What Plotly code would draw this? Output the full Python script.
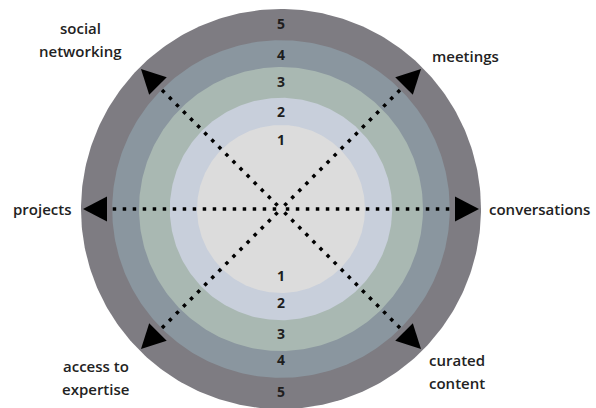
import numpy as np
import plotly.graph_objects as go

# ---------------- data ----------------
levels = [1, 2, 3, 4, 5]
ring_radius = [2.1, 2.78, 3.55, 4.22, 5.0]          # outer edge of each level ring
ring_colors = ["#dcdcdc", "#c8cfdb", "#a9b8b2", "#8a969f", "#7e7c82"]

dimensions = ["conversations", "meetings", "social\nnetworking",
              "projects", "access to\nexpertise", "curated\ncontent"]
dimension_angle = [0, 45, 135, 180, 225, 315]         # degrees, counter-clockwise from east

# ---------------- styling / layout helpers ----------------
tip_r = 4.95           # arrow tip distance (axis units)
head_len = 0.6
head_half = 0.31
line_start = 0.12
line_reach = 4.6
label_place = {        # anchor point and alignment for each dimension label
    "conversations": (5.15, 0.0, "left"),
    "meetings": (3.72, 3.82, "left"),
    "social\nnetworking": (-5.02, 4.24, "center"),
    "projects": (-5.2, 0.0, "right"),
    "access to\nexpertise": (-4.63, -4.2, "center"),
    "curated\ncontent": (3.65, -4.05, "left"),
}
FONT = "Open Sans"
W, H = 596, 408
unit = 40.0
cx, cy = 281, 209

fig = go.Figure()

# rings, biggest first
t = np.linspace(0, 2 * np.pi, 361)
for lvl, r, col in sorted(zip(levels, ring_radius, ring_colors), key=lambda z: -z[1]):
    fig.add_trace(go.Scatter(
        x=r * np.cos(t), y=r * np.sin(t), mode="lines", fill="toself",
        fillcolor=col, line=dict(width=0, color=col), hoverinfo="skip",
        showlegend=False))

# level numbers (above and below centre)
label_r = [r - 0.4 for r in ring_radius]
for sign in (1, -1):
    fig.add_trace(go.Scatter(
        x=[0] * len(levels), y=[sign * lr for lr in label_r], mode="text",
        text=[str(l) for l in levels],
        textfont=dict(family=FONT, size=14, color="#1e1e1e", weight="bold"),
        hoverinfo="skip", showlegend=False))

# dotted arrow lines + arrowheads
for name, ang in zip(dimensions, dimension_angle):
    a = np.deg2rad(ang)
    u = np.array([np.cos(a), np.sin(a)])
    n = np.array([-np.sin(a), np.cos(a)])
    fig.add_trace(go.Scatter(
        x=[line_start * u[0], line_reach * u[0]],
        y=[line_start * u[1], line_reach * u[1]],
        mode="lines", line=dict(color="#000000", width=3.5, dash="3.5px,6.5px"),
        hoverinfo="skip", showlegend=False))
    tip = tip_r * u
    base = (tip_r - head_len) * u
    p1 = base + head_half * n
    p2 = base - head_half * n
    fig.add_trace(go.Scatter(
        x=[tip[0], p1[0], p2[0], tip[0]], y=[tip[1], p1[1], p2[1], tip[1]],
        mode="lines", fill="toself", fillcolor="#000000",
        line=dict(width=0, color="#000000"), hoverinfo="skip", showlegend=False))

# dimension labels
for name in dimensions:
    x, y, al = label_place[name]
    lines = name.split("\n")
    k = len(lines)
    for i, ln in enumerate(lines):
        fig.add_annotation(
            x=x, y=y, xref="x", yref="y", text=ln, showarrow=False,
            xanchor=al, yanchor="middle", yshift=(k - 1) * 11.5 - i * 23,
            font=dict(family=FONT, size=15, color="#222222", weight=600))

fig.update_layout(
    width=W, height=H, margin=dict(l=0, r=0, t=0, b=0),
    paper_bgcolor="white", plot_bgcolor="white",
    xaxis=dict(range=[-cx / unit, (W - cx) / unit], visible=False, fixedrange=True),
    yaxis=dict(range=[-(H - cy) / unit, cy / unit], visible=False, fixedrange=True,
               scaleanchor="x", scaleratio=1),
)

fig.write_html("out.html", config={"displayModeBar": False},
               post_script="document.body.style.margin='0';")
